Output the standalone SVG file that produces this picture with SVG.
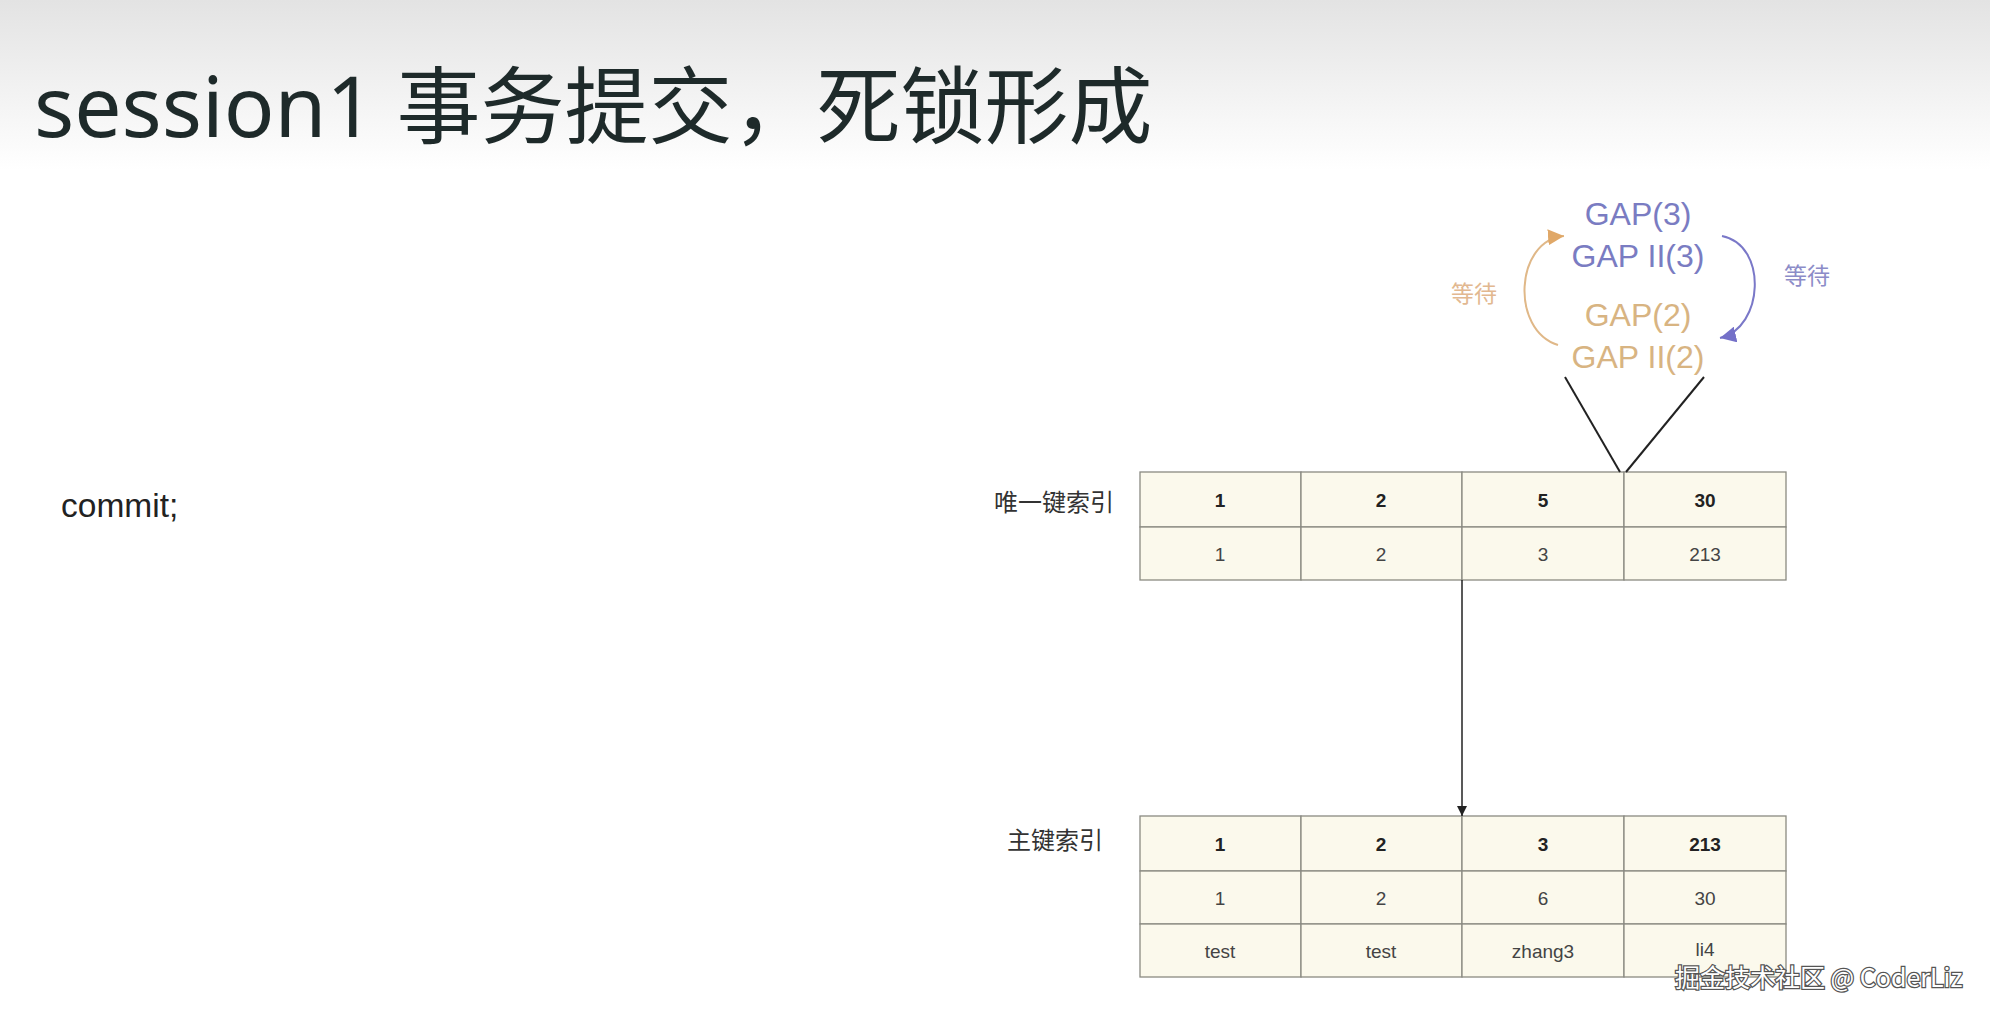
<svg xmlns="http://www.w3.org/2000/svg" width="1990" height="1016" viewBox="0 0 1990 1016">
<defs>
<linearGradient id="bg" x1="0" y1="0" x2="0" y2="1">
<stop offset="0" stop-color="#e3e3e3"/>
<stop offset="1" stop-color="#ffffff"/>
</linearGradient>
<marker id="ablack" viewBox="0 0 10 10" refX="10" refY="5" markerWidth="10" markerHeight="10" markerUnits="userSpaceOnUse" orient="auto"><path d="M0,0 L10,5 L0,10 z" fill="#222"/></marker>
<marker id="aorange" viewBox="0 0 10 10" refX="10" refY="5" markerWidth="16" markerHeight="16" markerUnits="userSpaceOnUse" orient="auto"><path d="M0,0 L10,5 L0,10 z" fill="#e0a868"/></marker>
<marker id="apurple" viewBox="0 0 10 10" refX="10" refY="5" markerWidth="16" markerHeight="16" markerUnits="userSpaceOnUse" orient="auto"><path d="M0,0 L10,5 L0,10 z" fill="#7470c8"/></marker>
</defs>
<style>
.cell{fill:#fbf9ec;stroke:#8a8a82;stroke-width:1.3}
.b{font-family:"Liberation Sans",Arial,sans-serif;font-size:19px;font-weight:bold;fill:#222;text-anchor:middle;dominant-baseline:central}
.r{font-family:"Liberation Sans",Arial,sans-serif;font-size:19px;fill:#444;text-anchor:middle;dominant-baseline:central}
.lbl{font-family:"Noto Sans CJK SC",sans-serif;font-size:24px;fill:#333;dominant-baseline:central}
.gap{font-family:"Liberation Sans",Arial,sans-serif;font-size:32px;text-anchor:middle;dominant-baseline:central}
.wait{font-family:"Noto Sans CJK SC",sans-serif;font-size:23px;dominant-baseline:central}
</style>
<rect x="0" y="0" width="1990" height="170" fill="url(#bg)"/>
<rect x="0" y="170" width="1990" height="846" fill="#ffffff"/>
<text x="34" y="137" font-family="'Noto Sans','Noto Sans CJK SC',sans-serif" font-size="84" fill="#1e2a2a">session1 事务提交，死锁形成</text>
<text x="61" y="517" font-family="'Liberation Sans',Arial,sans-serif" font-size="33.5" fill="#222">commit;</text>

<g id="gap-labels">
<text class="gap" x="1638" y="214" fill="#7a7cc2">GAP(3)</text>
<text class="gap" x="1638" y="256" fill="#7a7cc2">GAP II(3)</text>
<text class="gap" x="1638" y="315" fill="#d8b482">GAP(2)</text>
<text class="gap" x="1638" y="357" fill="#d8b482">GAP II(2)</text>
<text class="wait" x="1451" y="292" fill="#e2b890">等待</text>
<text class="wait" x="1784" y="274" fill="#8c8cc8">等待</text>
</g>

<g id="unique-index">
<text class="lbl" x="1114" y="500" text-anchor="end">唯一键索引</text>
<rect class="cell" x="1140" y="472" width="161" height="55"/>
<rect class="cell" x="1301" y="472" width="161" height="55"/>
<rect class="cell" x="1462" y="472" width="162" height="55"/>
<rect class="cell" x="1624" y="472" width="162" height="55"/>
<rect class="cell" x="1140" y="527" width="161" height="53"/>
<rect class="cell" x="1301" y="527" width="161" height="53"/>
<rect class="cell" x="1462" y="527" width="162" height="53"/>
<rect class="cell" x="1624" y="527" width="162" height="53"/>
<text class="b" x="1220" y="500">1</text>
<text class="b" x="1381" y="500">2</text>
<text class="b" x="1543" y="500">5</text>
<text class="b" x="1705" y="500">30</text>
<text class="r" x="1220" y="554">1</text>
<text class="r" x="1381" y="554">2</text>
<text class="r" x="1543" y="554">3</text>
<text class="r" x="1705" y="554">213</text>
</g>

<g id="primary-index">
<text class="lbl" x="1103" y="838" text-anchor="end">主键索引</text>
<rect class="cell" x="1140" y="816" width="161" height="55"/>
<rect class="cell" x="1301" y="816" width="161" height="55"/>
<rect class="cell" x="1462" y="816" width="162" height="55"/>
<rect class="cell" x="1624" y="816" width="162" height="55"/>
<rect class="cell" x="1140" y="871" width="161" height="53"/>
<rect class="cell" x="1301" y="871" width="161" height="53"/>
<rect class="cell" x="1462" y="871" width="162" height="53"/>
<rect class="cell" x="1624" y="871" width="162" height="53"/>
<rect class="cell" x="1140" y="924" width="161" height="53"/>
<rect class="cell" x="1301" y="924" width="161" height="53"/>
<rect class="cell" x="1462" y="924" width="162" height="53"/>
<rect class="cell" x="1624" y="924" width="162" height="53"/>
<text class="b" x="1220" y="844">1</text>
<text class="b" x="1381" y="844">2</text>
<text class="b" x="1543" y="844">3</text>
<text class="b" x="1705" y="844">213</text>
<text class="r" x="1220" y="898">1</text>
<text class="r" x="1381" y="898">2</text>
<text class="r" x="1543" y="898">6</text>
<text class="r" x="1705" y="898">30</text>
<text class="r" x="1220" y="951">test</text>
<text class="r" x="1381" y="951">test</text>
<text class="r" x="1543" y="951">zhang3</text>
<text class="r" x="1705" y="949">li4</text>
</g>

<g id="connectors" fill="none">
<line x1="1462" y1="580" x2="1462" y2="816" stroke="#222" stroke-width="1.5" marker-end="url(#ablack)"/>
<line x1="1565" y1="377" x2="1620" y2="472" stroke="#222" stroke-width="2"/>
<line x1="1704" y1="377" x2="1626" y2="472" stroke="#222" stroke-width="2"/>
<path d="M1558,345 C1510,330 1515,240 1564,236" stroke="#e0b888" stroke-width="2" marker-end="url(#aorange)"/>
<path d="M1722,236 C1768,245 1764,328 1720,338" stroke="#7a78c8" stroke-width="2" marker-end="url(#apurple)"/>
</g>

<text x="1675" y="987" font-family="'Noto Sans CJK SC',sans-serif" font-size="25" fill="#ffffff" stroke="#555" stroke-width="2.5" paint-order="stroke">掘金技术社区 @ CoderLiz</text>
</svg>
